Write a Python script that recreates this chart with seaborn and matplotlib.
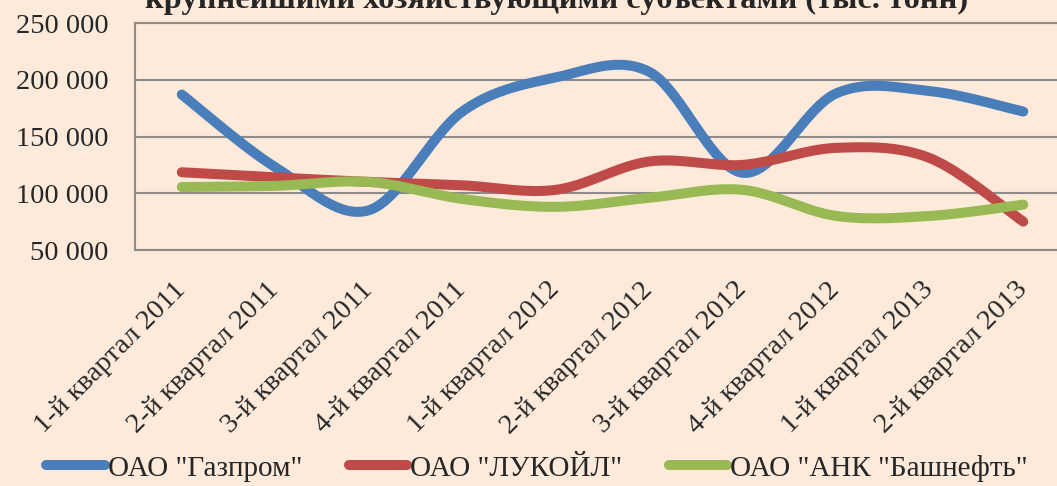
import numpy as np
import pandas as pd
import matplotlib
matplotlib.use("Agg")
import matplotlib.pyplot as plt
import seaborn as sns
from matplotlib.ticker import FuncFormatter
from matplotlib.lines import Line2D

quarters = ["1-й квартал 2011", "2-й квартал 2011", "3-й квартал 2011", "4-й квартал 2011",
            "1-й квартал 2012", "2-й квартал 2012", "3-й квартал 2012", "4-й квартал 2012",
            "1-й квартал 2013", "2-й квартал 2013"]
gazprom = [187000, 123000, 85000, 172000, 202000, 207000, 118000, 188000, 190000, 172000]
lukoil = [118500, 114000, 110000, 107000, 103000, 128000, 125000, 140000, 131000, 75000]
bashneft = [105500, 106500, 110000, 95000, 88000, 96000, 103000, 80000, 80000, 90000]
series_names = ['ОАО "Газпром"', 'ОАО "ЛУКОЙЛ"', 'ОАО "АНК "Башнефть"']
colors = ["#4A7EBB", "#BE4B48", "#98B954"]
title = "крупнейшими хозяйствующими субъектами (тыс. тонн)"

BG = "#FDEADA"
GRID = "#8C8C8C"

sns.set_theme(style="white")
plt.rcParams["font.family"] = ["Liberation Serif", "DejaVu Serif"]


def smooth(y, n=40):
    """Excel-style smoothed line (Bezier through every point)."""
    x = np.arange(len(y), dtype=float)
    y = np.asarray(y, dtype=float)
    pts = np.column_stack([x, y])
    ext = np.vstack([pts[0], pts, pts[-1]])
    out = []
    t = np.linspace(0, 1, n)[:, None]
    for i in range(len(pts) - 1):
        p0 = ext[i + 1]
        p3 = ext[i + 2]
        c1 = p0 + (ext[i + 2] - ext[i]) / 6.0
        c2 = p3 - (ext[i + 3] - ext[i + 1]) / 6.0
        seg = ((1 - t) ** 3) * p0 + 3 * ((1 - t) ** 2) * t * c1 + 3 * (1 - t) * t ** 2 * c2 + t ** 3 * p3
        out.append(seg if i == 0 else seg[1:])
    seg = np.vstack(out)
    return seg[:, 0], seg[:, 1]


frames = []
for name, vals in zip(series_names, [gazprom, lukoil, bashneft]):
    xs, ys = smooth(vals)
    frames.append(pd.DataFrame({"x": xs, "y": ys, "series": name}))
df = pd.concat(frames, ignore_index=True)

fig = plt.figure(figsize=(10.57, 4.86), dpi=100)
fig.patch.set_facecolor(BG)
ax = fig.add_axes([135 / 1057, 1 - 250 / 486, (1070 - 135) / 1057, (250 - 23) / 486])
ax.set_facecolor(BG)

sns.lineplot(data=df, x="x", y="y", hue="series", estimator=None,
             hue_order=series_names, palette=colors, sort=False, linewidth=7.2,
             solid_capstyle="round", ax=ax, legend=False)

ax.set_xlim(-0.5, len(quarters) - 0.5)
ax.set_ylim(50000, 250000)
ax.set_yticks([50000, 100000, 150000, 200000, 250000])
ax.yaxis.set_major_formatter(FuncFormatter(lambda v, p: f"{int(v):,}".replace(",", " ")))
ax.set_xticks(range(len(quarters)))
ax.set_xticklabels(quarters, rotation=45, ha="right", va="center", rotation_mode="anchor")
ax.tick_params(axis="x", labelsize=20.5, length=0, pad=26)
ax.tick_params(axis="y", labelsize=20.5, length=0, pad=19)
ax.set_xlabel("")
ax.set_ylabel("")
ax.grid(axis="y", color=GRID, linewidth=1.5)
ax.grid(axis="x", visible=False)
ax.set_axisbelow(True)
for side in ["left", "bottom", "top"]:
    ax.spines[side].set_visible(True)
    ax.spines[side].set_color(GRID)
    ax.spines[side].set_linewidth(1.5)
ax.spines["right"].set_visible(False)

handles = [Line2D([0], [0], color=c, linewidth=7.2, solid_capstyle="round") for c in colors]
fig.legend(handles, series_names, loc="center", bbox_to_anchor=(537 / 1057, 1 - 468 / 486),
           ncol=3, frameon=False, fontsize=21, handlelength=2.0, handletextpad=0.1,
           columnspacing=1.6)

fig.text(557 / 1057, 1 - 8 / 486, title, ha="center", va="baseline", fontsize=23.3,
         fontweight="bold")

fig.savefig("out.png", dpi=100, facecolor=BG)
